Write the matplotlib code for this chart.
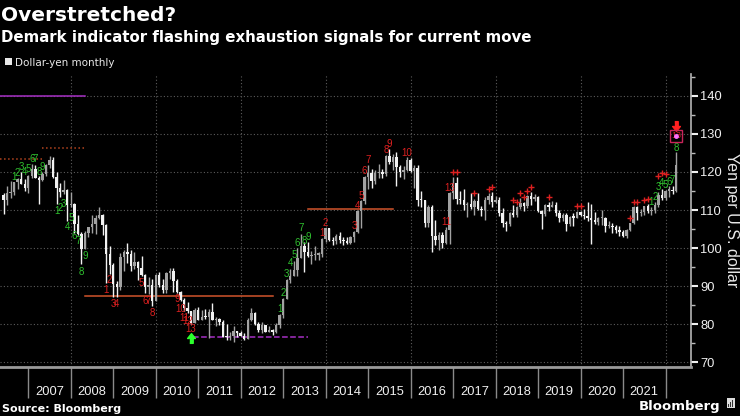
import matplotlib
matplotlib.use('Agg')
import matplotlib.pyplot as plt
from matplotlib import font_manager
from matplotlib.patches import Rectangle
import pandas as pd

# ---------------- data: USD/JPY monthly OHLC, May 2006 - Mar 2022 ----------------
start_month = '2006-05-31'
opens = [113.9, 112.6, 114.4, 114.6, 117.3, 118.1, 116.9, 115.7,
         119.0, 120.7, 118.5, 117.8, 119.5, 121.7, 123.2, 118.6, 115.8, 114.8, 115.3, 111.2,
         111.7, 106.3, 103.8, 99.7, 103.9, 105.5, 106.2, 108.0, 108.8, 106.0, 98.4, 95.5,
         90.6, 89.9, 97.6, 98.9, 98.5, 95.3, 96.3, 94.7, 93.0, 89.8, 90.2, 86.2,
         93.0, 90.3, 88.9, 93.5, 94.0, 91.3, 88.4, 86.5, 84.2, 83.5, 80.4, 83.7,
         81.1, 82.0, 81.8, 83.1, 81.2, 81.5, 80.5, 76.7, 76.6, 77.0, 78.2, 77.6,
         76.9, 76.2, 81.2, 82.9, 80.0, 78.4, 79.8, 78.1, 78.4, 77.9, 79.8, 82.5,
         86.7, 91.7, 92.6, 94.2, 97.5, 100.5, 99.1, 97.9, 98.2, 98.3, 98.4, 102.4,
         105.3, 102.0, 101.8, 103.2, 102.2, 101.8, 101.3, 102.8, 104.1, 109.7, 112.3, 118.6,
         119.8, 117.5, 119.6, 120.1, 119.4, 124.1, 122.5, 123.9, 121.2, 119.9, 120.6, 123.1,
         120.2, 121.1, 112.7, 112.6, 106.5, 110.7, 103.2, 102.1, 103.4, 101.4, 104.8, 114.5,
         117.0, 112.8, 112.7, 111.4, 111.5, 110.8, 112.4, 110.2, 110.0, 112.5, 113.7, 112.2,
         112.7, 109.2, 106.7, 106.3, 109.3, 108.8, 110.8, 111.9, 111.0, 113.7, 112.9, 113.5,
         109.7, 108.9, 111.4, 110.9, 111.4, 109.3, 107.9, 108.6, 106.3, 108.1, 108.0, 109.5,
         108.6, 108.4, 107.9, 107.5, 106.9, 107.8, 107.9, 105.8, 105.9, 105.5, 104.7, 104.3,
         103.3, 104.7, 106.6, 110.7, 109.3, 109.6, 111.1, 109.7, 110.0, 111.3, 114.0, 113.2,
         115.1, 115.1, 115.0]
highs = [114.4, 116.4, 117.5, 117.4, 118.3, 119.9, 118.2, 119.3,
         122.2, 121.9, 119.0, 120.0, 122.0, 124.1, 123.9, 119.9, 117.1, 117.9, 115.5, 114.7,
         111.8, 108.7, 104.1, 104.6, 105.6, 108.6, 108.6, 110.7, 109.0, 106.4, 100.5, 96.0,
         91.3, 98.6, 99.6, 101.4, 99.4, 98.9, 96.6, 97.8, 93.3, 92.3, 92.0, 93.2,
         93.8, 91.8, 93.8, 94.7, 94.9, 92.0, 88.7, 86.9, 85.9, 83.6, 84.4, 84.5,
         83.7, 84.0, 84.0, 85.5, 82.0, 81.6, 81.1, 80.2, 77.9, 79.5, 78.3, 78.3,
         77.6, 81.7, 84.2, 83.3, 80.5, 80.6, 79.9, 79.6, 78.8, 80.4, 82.8, 86.8,
         91.8, 94.5, 96.7, 99.9, 103.7, 101.5, 101.5, 99.2, 100.6, 99.0, 102.6, 105.4,
         105.4, 102.8, 103.8, 104.1, 102.8, 102.8, 103.1, 104.5, 110.1, 112.5, 119.0, 121.8,
         120.8, 120.5, 122.0, 120.8, 124.5, 125.9, 124.6, 125.3, 121.7, 121.5, 123.8, 123.6,
         121.7, 121.7, 114.9, 112.7, 111.4, 111.4, 107.5, 104.3, 104.3, 105.5, 114.8, 118.7,
         118.6, 114.9, 115.5, 112.2, 114.4, 112.9, 114.5, 111.0, 113.3, 114.5, 114.7, 113.8,
         113.4, 110.5, 107.0, 109.6, 111.4, 111.0, 113.2, 112.2, 113.9, 114.6, 114.2, 113.8,
         110.0, 111.5, 112.1, 112.4, 112.0, 109.9, 109.3, 109.3, 108.5, 109.3, 109.7, 109.7,
         110.3, 112.2, 111.7, 109.4, 108.1, 109.9, 108.2, 107.0, 106.5, 106.1, 105.7, 104.8,
         104.9, 106.7, 111.0, 111.0, 110.2, 111.1, 111.7, 110.8, 112.1, 114.7, 115.5, 115.2,
         116.35, 116.3, 125.1]
lows = [109.0, 111.2, 113.1, 113.9, 115.4, 116.8, 114.9, 114.4,
        118.5, 118.3, 111.6, 117.6, 118.9, 121.1, 118.4, 111.6, 113.3, 114.1, 107.2, 110.8,
        104.0, 103.5, 95.8, 99.7, 102.8, 103.9, 103.8, 107.7, 103.5, 90.9, 93.2, 87.1,
        87.1, 89.1, 93.9, 96.0, 93.9, 94.5, 91.7, 92.6, 88.2, 88.0, 84.8, 86.0,
        89.8, 88.1, 88.2, 92.0, 88.5, 88.2, 86.0, 83.6, 82.9, 80.2, 80.3, 81.1,
        81.1, 81.5, 76.3, 81.1, 79.6, 79.7, 76.7, 75.9, 75.9, 75.3, 76.6, 76.9,
        76.0, 76.1, 80.9, 79.7, 78.0, 77.7, 77.9, 78.0, 77.1, 77.7, 79.0, 81.7,
        86.6, 90.9, 92.6, 92.6, 97.3, 93.8, 97.6, 95.8, 97.0, 96.9, 97.6, 101.6,
        101.8, 100.8, 101.2, 101.4, 100.8, 101.2, 101.1, 101.5, 104.0, 105.2, 111.6, 115.6,
        115.9, 116.9, 118.3, 118.5, 118.9, 122.1, 120.4, 116.2, 118.6, 118.1, 120.2, 119.9,
        115.9, 111.0, 110.7, 105.6, 105.5, 99.0, 100.7, 99.5, 100.1, 101.2, 101.2, 112.9,
        111.6, 111.6, 110.1, 108.1, 110.2, 108.8, 110.0, 108.3, 107.3, 111.7, 110.8, 111.9,
        108.3, 105.6, 104.6, 105.7, 108.1, 108.1, 110.3, 109.8, 110.4, 111.4, 112.3, 109.6,
        104.9, 108.5, 109.7, 110.8, 108.3, 106.8, 107.2, 104.5, 105.7, 105.7, 107.9, 108.4,
        107.6, 107.0, 101.2, 106.4, 106.0, 106.1, 104.2, 105.2, 104.0, 104.0, 103.2, 102.9,
        102.6, 104.4, 106.4, 107.5, 108.3, 108.6, 109.1, 108.7, 109.1, 110.8, 112.5, 112.6,
        113.5, 114.2, 114.7]
closes = [112.6, 114.4, 114.6, 117.3, 118.1, 116.9, 115.7, 119.0,
          120.7, 118.5, 117.8, 119.5, 121.7, 123.2, 118.6, 115.8, 114.8, 115.3, 111.2, 111.7,
          106.3, 103.8, 99.7, 103.9, 105.5, 106.2, 108.0, 108.8, 106.0, 98.4, 95.5, 90.6,
          89.9, 97.6, 98.9, 98.5, 95.3, 96.3, 94.7, 93.0, 89.8, 90.2, 86.2, 93.0,
          90.3, 88.9, 93.5, 94.0, 91.3, 88.4, 86.5, 84.2, 83.5, 80.4, 83.7, 81.1,
          82.0, 81.8, 83.1, 81.2, 81.5, 80.5, 76.7, 76.6, 77.0, 78.2, 77.6, 76.9,
          76.2, 81.2, 82.9, 80.0, 78.4, 79.8, 78.1, 78.4, 77.9, 79.8, 82.5, 86.7,
          91.7, 92.6, 94.2, 97.5, 100.5, 99.1, 97.9, 98.2, 98.3, 98.4, 102.4, 105.3,
          102.0, 101.8, 103.2, 102.2, 101.8, 101.3, 102.8, 104.1, 109.7, 112.3, 118.6, 119.8,
          117.5, 119.6, 120.1, 119.4, 124.1, 122.5, 123.9, 121.2, 119.9, 120.6, 123.1, 120.2,
          121.1, 112.7, 112.6, 106.5, 110.7, 103.2, 102.1, 103.4, 101.4, 104.8, 114.5, 117.0,
          112.8, 112.7, 111.4, 111.5, 110.8, 112.4, 110.2, 110.0, 112.5, 113.7, 112.2, 112.7,
          109.2, 106.7, 106.3, 109.3, 108.8, 110.8, 111.9, 111.0, 113.7, 112.9, 113.5, 109.7,
          108.9, 111.4, 110.9, 111.4, 109.3, 107.9, 108.6, 106.3, 108.1, 108.0, 109.5, 108.6,
          108.4, 107.9, 107.5, 106.9, 107.8, 107.9, 105.8, 105.9, 105.5, 104.7, 104.3, 103.3,
          104.7, 106.6, 110.7, 109.3, 109.6, 111.1, 109.7, 110.0, 111.3, 114.0, 113.2, 115.1,
          115.1, 115.0, 121.7]

# DeMark annotations: candle index, level, label
green_idx = [3, 4, 5, 6, 7, 8, 9, 10, 11,
             15, 16, 17, 18, 19, 20, 21, 22, 23,
             78, 79, 80, 81, 82, 83, 84, 85, 86,
             183, 184, 185, 186, 187, 188, 189, 190]
green_val = [118.7, 119.8, 121.3, 120.1, 120.7, 123.4, 123.4, 120.1, 121.4,
             109.8, 110.6, 111.5, 105.6, 107.8, 103.2, 101.9, 93.8, 98.0,
             84.0, 88.3, 93.1, 96.2, 98.1, 101.3, 105.2, 101.9, 103.0,
             112.2, 113.5, 116.0, 117.0, 116.6, 117.4, 117.8, 126.3]
green_lbl = ['1', '2', '3', '4', '5', '6', '7', '8', '9',
             '1', '2', '3', '4', '5', '6', '7', '8', '9',
             '1', '2', '3', '4', '5', '6', '7', '8', '9',
             '1', '2', '3', '4', '5', '6', '7', '8']
red_idx = [29, 30, 31, 32, 39, 40, 41, 42, 49, 50, 51, 52, 53,
           90, 91, 99, 100, 101, 102, 103, 108, 109, 114, 125, 126]
red_val = [89.0, 91.6, 85.3, 85.3, 90.8, 86.2, 86.2, 82.9, 86.6, 84.0, 81.7, 80.9, 78.7,
           103.9, 106.7, 105.9, 111.0, 113.8, 120.2, 123.1, 125.7, 127.2, 125.0, 106.9, 115.8]
red_lbl = ['1', '2', '3', '4', '5', '6', '7', '8', '9', '10', '11', '12', '13',
           '1', '2', '3', '4', '5', '6', '7', '8', '9', '10', '11', '13']
plus_idx = [127, 128, 133, 137, 138, 144, 145, 146, 147, 148, 149, 154, 162, 163,
            177, 178, 179, 181, 182, 185, 186, 187]
plus_val = [120.0, 120.0, 114.4, 115.6, 116.1, 112.6, 112.2, 114.4, 113.5, 115.1, 116.0,
            113.5, 111.0, 111.0, 107.8, 112.2, 112.2, 112.6, 113.0, 118.9, 119.8, 119.4]
# TDST-style levels: start index, end index, level, colour, style
level_start = [-1, -1, 11, 23, 53.6, 86.1]
level_end = [23, 11, 23.3, 76.1, 86.1, 110.1]
level_val = [140.0, 123.3, 126.2, 87.3, 76.75, 110.3]
level_col = ['#a62fc4', '#b4441f', '#b4441f', '#d2542c', '#a62fc4', '#d2542c']
level_ls = ['-', ':', ':', '-', '--', '-']
buy_arrow = (53, 76.3)
sell_arrow = (190, 132.1)
final_13 = (190, 129.5)

year_ticks = list(range(2007, 2023))
year_labels = [str(y) for y in range(2007, 2022)]
grid_years = [2008, 2010, 2012, 2014, 2016, 2018, 2020, 2022]
y_ticks = [70, 80, 90, 100, 110, 120, 130, 140]

# ---------------- fonts ----------------
names = {f.name for f in font_manager.fontManager.ttflist}
if 'Liberation Sans Narrow' in names:
    NARROW, K = 'Liberation Sans Narrow', 1.2
else:
    NARROW, K = 'Liberation Sans', 1.0

# ---------------- figure ----------------
W, H = 740, 416
fig = plt.figure(figsize=(W / 100, H / 100), dpi=100, facecolor='black')
ax = fig.add_axes([0, 1 - 366.7 / H, 690.7 / W, (366.7 - 74) / H])
ax.set_facecolor('black')

dates = pd.date_range(start_month, periods=len(closes), freq='ME')
xs = list(dates.year + dates.month / 12.0)


def xpos(i):
    return 2006 + (5 + i) / 12.0


UP, DOWN = '#a2a2a2', '#f2f2f2'
cols = [UP if c >= o else DOWN for o, c in zip(opens, closes)]
ax.vlines(xs, lows, highs, colors=cols, lw=1.0, zorder=3)
bottoms = [min(o, c) for o, c in zip(opens, closes)]
heights = [max(abs(c - o), 0.3) for o, c in zip(opens, closes)]
ax.bar(xs, heights, bottom=bottoms, width=0.68 / 12, color=cols, linewidth=0, zorder=4)

# grid
for yv in y_ticks:
    ax.axhline(yv, color='#5c5c5c', lw=0.8, ls=(0, (1, 2)), zorder=1)
for gx in grid_years:
    ax.axvline(gx, color='#5c5c5c', lw=0.8, ls=(0, (1, 2)), zorder=1)

# levels
for s, e, v, c, ls in zip(level_start, level_end, level_val, level_col, level_ls):
    ax.plot([xpos(s), xpos(e)], [v, v], color=c, ls=ls, lw=1.1, zorder=2)

# numbers
for i, v, t in zip(green_idx, green_val, green_lbl):
    ax.text(xpos(i), v, t, color='#2fc02f', fontsize=7 * K, family=NARROW,
            ha='center', va='center', zorder=6)
for i, v, t in zip(red_idx, red_val, red_lbl):
    ax.text(xpos(i), v, t, color='#dd2020', fontsize=7 * K, family=NARROW,
            ha='center', va='center', zorder=6)
ax.plot([xpos(i) for i in plus_idx], plus_val, ls='none', marker='+', ms=4.5,
        mew=1.0, color='#dd2020', zorder=6)

# arrows
up_arrow = [(-0.35, -1), (0.35, -1), (0.35, 0), (0.8, 0), (0, 1), (-0.8, 0), (-0.35, 0)]
down_arrow = [(x, -y) for x, y in up_arrow]
ax.plot([xpos(buy_arrow[0])], [buy_arrow[1]], marker=up_arrow, ms=7, color='#2cff2c',
        ls='none', zorder=7)
ax.plot([xpos(sell_arrow[0])], [sell_arrow[1]], marker=down_arrow, ms=7, color='#ff2020',
        ls='none', zorder=7)
ax.text(xpos(final_13[0]), final_13[1], '13', color='#d21c1c', fontsize=6.5 * K, family=NARROW,
        ha='center', va='center', zorder=7,
        bbox=dict(boxstyle='square,pad=0.15', fc='none', ec='#c8245a', lw=1.0))
ax.plot([xpos(final_13[0])], [final_13[1]], marker='o', ms=2.5, color='#ff70ff', ls='none',
        zorder=8)

# axes
ax.set_xlim(2006.334, 2022.593)
ax.set_ylim(68.87, 145.7)
for sp in ['left', 'top']:
    ax.spines[sp].set_visible(False)
ax.spines['bottom'].set_color('#9a9a9a')
ax.spines['bottom'].set_linewidth(2)
ax.spines['right'].set_color('#b5b5b5')
ax.spines['right'].set_linewidth(1.2)

ax.set_xticks(year_ticks)
ax.set_xticklabels([])
ax.set_xticks([y + 0.5 for y in range(2007, 2022)], minor=True)
ax.set_xticklabels(year_labels, minor=True)
ax.tick_params(axis='x', which='major', length=22.5, width=1, color='#8a8a8a', direction='out')
ax.tick_params(axis='x', which='minor', length=0, pad=14, labelsize=9.3 * K,
               labelcolor='#f0f0f0')
for lab in ax.get_xticklabels(minor=True):
    lab.set_family(NARROW)

ax.yaxis.tick_right()
ax.set_yticks(y_ticks)
ax.set_yticks([75, 85, 95, 105, 115, 125, 135, 145], minor=True)
ax.tick_params(axis='y', which='major', length=5, width=1.5, color='#eeeeee',
               labelcolor='#f0f0f0', labelsize=9.3 * K, pad=2)
ax.tick_params(axis='y', which='minor', length=3, width=1, color='#bbbbbb')
for lab in ax.get_yticklabels():
    lab.set_family(NARROW)

# text
fig.text(731 / W, 1 - 220 / H, 'Yen per U.S. dollar', rotation=270, color='#e8e8e8',
         fontsize=11.5 * K, family=NARROW, ha='center', va='center')
fig.text(1 / W, 1 - 21 / H, 'Overstretched?', color='white', fontsize=14.5,
         fontweight='bold', va='baseline', ha='left')
fig.text(1 / W, 1 - 42 / H, 'Demark indicator flashing exhaustion signals for current move',
         color='white', fontsize=10.85, fontweight='bold', va='baseline', ha='left')
fig.patches.append(Rectangle((5 / W, 1 - 65 / H), 6.7 / W, 6.7 / H, transform=fig.transFigure,
                             facecolor='#e8e8e8', edgecolor='none'))
fig.text(15 / W, 1 - 65.5 / H, 'Dollar-yen monthly', color='#e8e8e8', fontsize=7.5,
         va='baseline', ha='left')
fig.text(2 / W, 1 - 411.7 / H, 'Source: Bloomberg', color='white', fontsize=8,
         fontweight='bold', va='baseline', ha='left')
fig.text(720 / W, 1 - 410 / H, 'Bloomberg', color='white', fontsize=9.5,
         fontweight='bold', va='baseline', ha='right')
fig.patches.append(Rectangle((726.5 / W, 1 - 408 / H), 8.5 / W, 10 / H, transform=fig.transFigure,
                             facecolor='#dddddd', edgecolor='none'))
for bx, bh in [(728.3, 3), (730.3, 5), (732.3, 7)]:
    fig.patches.append(Rectangle((bx / W, 1 - 406.5 / H), 1.2 / W, bh / H,
                                 transform=fig.transFigure, facecolor='#333333',
                                 edgecolor='none'))

fig.savefig('out.png', dpi=100, facecolor='black')
